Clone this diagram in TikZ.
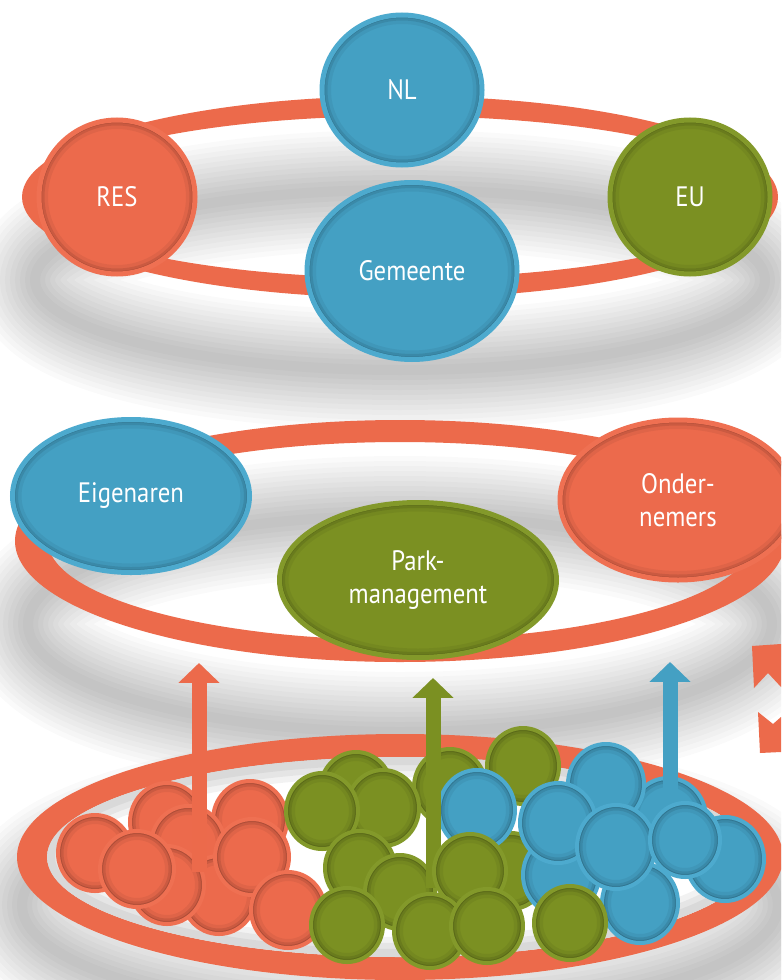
\documentclass[tikz,border=0pt]{standalone}
\usepackage{fontspec}
\setmainfont{PT Sans}[FakeStretch=0.88]
\usetikzlibrary{shapes.geometric,arrows.meta,calc}

\newdimen\pxu \pxu=0.02cm

\definecolor{ringorange}{HTML}{EC6A4B}
\definecolor{orangefill}{HTML}{EC6A4C}
\definecolor{orangerim}{HTML}{EF7052}
\definecolor{bluefill}{HTML}{44A0C3}
\definecolor{bluerim}{HTML}{4DAACE}
\definecolor{greenfill}{HTML}{7B9022}
\definecolor{greenrim}{HTML}{83992A}

\tikzset{
  inset/.style={path picture={
      \foreach \w/\o in {18/0.05,11/0.09,6/0.14,2/0.22}
        \draw[black, opacity=\o, line width=\w\pxu]
          let \p1=($(path picture bounding box.north east)-(path picture bounding box.center)$)
          in (path picture bounding box.center) ellipse [x radius=\x1, y radius=\y1];
    }},
  disc/.style={ellipse, inner sep=0pt, text=white, align=center,
    line width=5\pxu, inset, font=\fontsize{16}{19}\selectfont},
  bluedisc/.style={disc, fill=bluefill, draw=bluerim},
  greendisc/.style={disc, fill=greenfill, draw=greenrim},
  orangedisc/.style={disc, fill=orangefill, draw=orangerim},
  ball/.style={line width=4\pxu, inset},
  ringshadow/.style={black, opacity=0.02},
  uparrow/.style={line width=15\pxu, -{Triangle[width=22.7pt,length=11.3pt]}},
}

\begin{document}
\begin{tikzpicture}[x=0.02cm, y=-0.02cm]
  \useasboundingbox (0,0) rectangle (781,980);
  \clip (0,0) rectangle (781,980);
  \fill[white] (0,0) rectangle (781,980);

  % blurred shadows of the rings
  \foreach \w in {120,110,...,10}
    {
      \draw[ringshadow, line width=\w\pxu] (400,280) ellipse [x radius=365, y radius=90];
      \draw[ringshadow, line width=\w\pxu] (400,624) ellipse [x radius=372, y radius=108];
      \draw[ringshadow, line width=\w\pxu] (400,905) ellipse [x radius=378, y radius=110];
    }

  % upper ring
  \fill[ringorange, even odd rule] (400,197) ellipse [x radius=378, y radius=101]
    (400,197) ellipse [x radius=360, y radius=81];
  \node[bluedisc, minimum width=160\pxu, minimum height=150\pxu] (nl) at (402,90) {NL};
  \node[orangedisc, minimum width=156\pxu, minimum height=154\pxu] (res) at (117,197) {RES};
  \node[greendisc, minimum width=160\pxu, minimum height=154\pxu] (eu) at (690,197) {EU};
  \node[bluedisc, minimum width=210\pxu, minimum height=177\pxu] (gemeente) at (412,271) {Gemeente};

  % middle ring
  \fill[ringorange, even odd rule] (400,541) ellipse [x radius=385, y radius=121]
    (400,541) ellipse [x radius=352, y radius=99];
  \node[bluedisc, minimum width=237\pxu, minimum height=153\pxu] (eigenaren) at (131,496) {Eigenaren};
  \node[orangedisc, minimum width=236\pxu, minimum height=160\pxu] (ondernemers) at (678,500) {Onder-\\nemers};
  \node[greendisc, minimum width=277\pxu, minimum height=155\pxu] (park) at (418,580) {Park-\\management};

  % lower ring with the crowd
  \fill[ringorange, even odd rule] (400,857) ellipse [x radius=383, y radius=123]
    (400,857) ellipse [x radius=353, y radius=100];
  \begin{scope}
    \clip (400,857) ellipse [x radius=353, y radius=100];
    \fill[white] (400,857) ellipse [x radius=353, y radius=100];
    \foreach \w in {40,28,16}
      \draw[black, opacity=0.05, line width=\w\pxu] (400,857) ellipse [x radius=353, y radius=100];
  \end{scope}

  \coordinate (orangefoot) at (199,872);
  \coordinate (orangetip) at (199,663);
  \coordinate (greenfoot) at (433,888);
  \coordinate (greentip) at (433,678);
  \coordinate (bluefoot) at (670,823);
  \coordinate (bluetip) at (670,662);

  % back row
  \foreach \bx/\by in {167/822,250/820,188/845,219/895,167/885}
    \draw[ball, fill=orangefill, draw=orangerim] (\bx,\by) ellipse [x radius=37, y radius=39];
  \foreach \bx/\by in {356/790,523/766,450/787,383/808,322/811,511/871}
    \draw[ball, fill=greenfill, draw=greenrim] (\bx,\by) ellipse [x radius=36, y radius=38];
  \foreach \bx/\by in {668/818,606/784,561/875,558/823,477/810,640/903}
    \draw[ball, fill=bluefill, draw=bluerim] (\bx,\by) ellipse [x radius=38, y radius=40];

  \draw[uparrow, ringorange] (orangefoot) -- (orangetip);

  \foreach \bx/\by in {95/853,137/869,252/857,288/910}
    \draw[ball, fill=orangefill, draw=orangerim] (\bx,\by) ellipse [x radius=37, y radius=38];
  \foreach \bx/\by in {360/868,400/892}
    \draw[ball, fill=greenfill, draw=greenrim] (\bx,\by) ellipse [x radius=35, y radius=37];

  \draw[uparrow, greenfill] (greenfoot) -- (greentip);

  \foreach \bx/\by in {470/871,347/925,430/931,487/926,570/923}
    \draw[ball, fill=greenfill, draw=greenrim] (\bx,\by) ellipse [x radius=36, y radius=37];
  \foreach \bx/\by in {616/847,725/859}
    \draw[ball, fill=bluefill, draw=bluerim] (\bx,\by) ellipse [x radius=39, y radius=42];

  \draw[uparrow, bluefill] (bluefoot) -- (bluetip);

  \draw[ball, fill=bluefill, draw=bluerim] (685,840) ellipse [x radius=35, y radius=37];

  % arrow cut off at the right edge
  \fill[ringorange] (752,646) -- (781,644) -- (781,687) -- (768,673) -- (754,688) -- cycle;
  \fill[ringorange] (758,712) -- (773,724) -- (781,717) -- (781,752) -- (760,753) -- cycle;
\end{tikzpicture}
\end{document}
